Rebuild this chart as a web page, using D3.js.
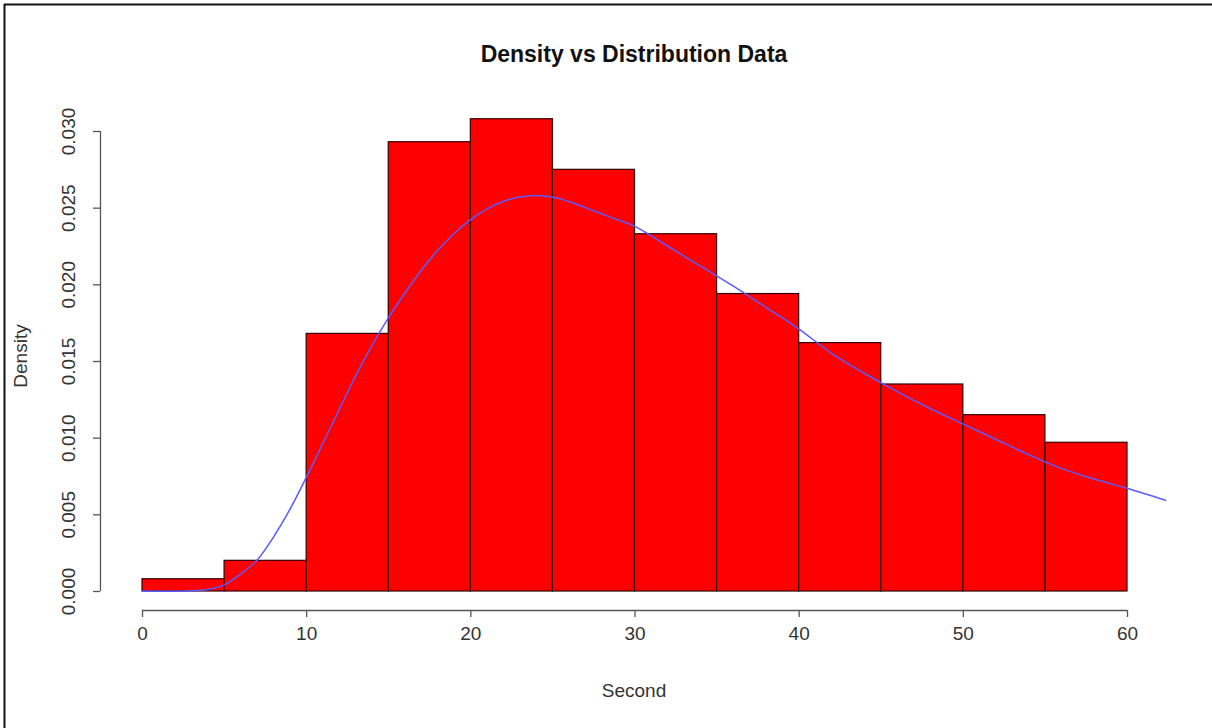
<!DOCTYPE html>
<html>
<head>
<meta charset="utf-8">
<script src="https://cdn.jsdelivr.net/npm/d3@7/dist/d3.min.js"></script>
<style>
  html, body { margin: 0; padding: 0; background: #fff; }
  svg { display: block; }
  text { font-family: "Liberation Sans", Arial, sans-serif; }
</style>
</head>
<body>
<svg id="chart" width="1212" height="728"></svg>
<script>
// Histogram bins (seconds) and their density heights
const binStarts = [0, 5, 10, 15, 20, 25, 30, 35, 40, 45, 50, 55];
const binWidth = 5;
const densities = [0.0008, 0.0020, 0.0168, 0.0293, 0.0308, 0.0275, 0.0233, 0.0194, 0.0162, 0.0135, 0.0115, 0.0097];

// Kernel density estimate of the same data
const curveX = [0, 4, 5, 6, 7, 8, 9, 10, 11, 12, 13, 14, 15, 16, 17, 18, 19, 20, 21, 22, 23, 24, 25, 26, 27, 28, 29, 30, 32, 34, 36, 38, 40, 42, 44, 46, 48, 50, 52, 54, 56, 58, 60, 62.4];
const curveY = [0, 0.0001, 0.0004, 0.0011, 0.0020, 0.0035, 0.0053, 0.0074, 0.0096, 0.0118, 0.0140, 0.0160, 0.0178, 0.0194, 0.0209, 0.0222, 0.0233, 0.0242, 0.0249, 0.0254, 0.0257, 0.0258, 0.0257, 0.0254, 0.0250, 0.0246, 0.0242, 0.0238, 0.0225, 0.0212, 0.0199, 0.0185, 0.0171, 0.0155, 0.0142, 0.0130, 0.0119, 0.0109, 0.0099, 0.0089, 0.0080, 0.0073, 0.0067, 0.0059];

// Axis ticks
const xTicks = [0, 10, 20, 30, 40, 50, 60];
const yTicks = [0, 0.005, 0.010, 0.015, 0.020, 0.025, 0.030];

const svg = d3.select("#chart");

// frame edges
svg.append("line").attr("x1", 4).attr("y1", 4.5).attr("x2", 1212).attr("y2", 4.5)
  .attr("stroke", "#111").attr("stroke-width", 2);
svg.append("line").attr("x1", 4.5).attr("y1", 4).attr("x2", 4.5).attr("y2", 728)
  .attr("stroke", "#111").attr("stroke-width", 2);

const x = d3.scaleLinear().domain([0, 60]).range([142, 1127]);
const y = d3.scaleLinear().domain([0, 0.030]).range([591, 131]);

// plotting region (with R-style 4% padding) used to clip the density line
const clipLeft = x(-2.4), clipRight = x(62.4);
svg.append("clipPath").attr("id", "plotClip")
  .append("rect")
  .attr("x", clipLeft).attr("y", y(0.0320))
  .attr("width", clipRight - clipLeft).attr("height", y(-0.0012) - y(0.0320));

// histogram bars
svg.append("g").selectAll("rect")
  .data(binStarts.map((s, i) => ({ s, d: densities[i] })))
  .join("rect")
  .attr("x", d => x(d.s))
  .attr("y", d => y(d.d))
  .attr("width", d => x(d.s + binWidth) - x(d.s))
  .attr("height", d => y(0) - y(d.d))
  .attr("fill", "#ff0000")
  .attr("stroke", "#300000")
  .attr("stroke-width", 1.2);

// density curve
const line = d3.line()
  .x(d => x(d[0]))
  .y(d => y(d[1]))
  .curve(d3.curveCatmullRom.alpha(0.5));
svg.append("path")
  .datum(curveX.map((v, i) => [v, curveY[i]]))
  .attr("d", line)
  .attr("fill", "none")
  .attr("stroke", "#5a5aff")
  .attr("stroke-width", 1.5)
  .attr("clip-path", "url(#plotClip)");

// x axis (R style: line spans first to last tick)
const xAxis = d3.axisBottom(x).tickValues(xTicks).tickSize(7).tickPadding(10)
  .tickFormat(d3.format("d"));
const gx = svg.append("g").attr("transform", "translate(0,610)").call(xAxis);
gx.select(".domain").attr("d", `M${x(0)},0.5H${x(60)}`).attr("stroke", "#555").attr("stroke-width", 1.3);
gx.selectAll(".tick line").attr("stroke", "#555").attr("stroke-width", 1.3);
gx.selectAll(".tick text").attr("font-size", 19).attr("fill", "#333")
  .attr("font-family", "Liberation Sans, Arial, sans-serif");

// y axis with rotated labels
const yAxis = d3.axisLeft(y).tickValues(yTicks).tickSize(7).tickPadding(0)
  .tickFormat(d3.format(".3f"));
const gy = svg.append("g").attr("transform", "translate(100,0)").call(yAxis);
gy.select(".domain").attr("d", `M0.5,${y(0)}V${y(0.030)}`).attr("stroke", "#555").attr("stroke-width", 1.3);
gy.selectAll(".tick line").attr("stroke", "#555").attr("stroke-width", 1.3);
gy.selectAll(".tick text")
  .attr("font-size", 19).attr("fill", "#333")
  .attr("font-family", "Liberation Sans, Arial, sans-serif")
  .attr("x", null).attr("dy", null)
  .attr("text-anchor", "middle")
  .attr("transform", "translate(-32,0) rotate(-90)")
  .attr("y", 0).attr("dominant-baseline", "central");

// title and axis titles
svg.append("text")
  .attr("x", 634).attr("y", 62)
  .attr("text-anchor", "middle")
  .attr("font-size", 23).attr("font-weight", "bold").attr("fill", "#111")
  .text("Density vs Distribution Data");

svg.append("text")
  .attr("x", 634).attr("y", 697)
  .attr("text-anchor", "middle")
  .attr("font-size", 19).attr("fill", "#333")
  .text("Second");

svg.append("text")
  .attr("transform", "translate(27,356) rotate(-90)")
  .attr("text-anchor", "middle")
  .attr("font-size", 19).attr("fill", "#333")
  .text("Density");
</script>
</body>
</html>
